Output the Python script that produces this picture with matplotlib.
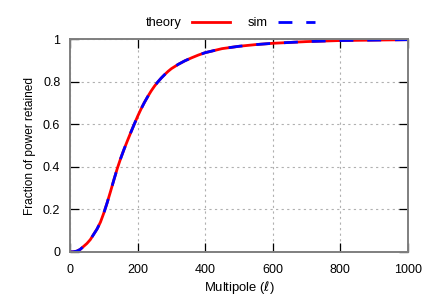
import matplotlib.pyplot as plt
from matplotlib.lines import Line2D

# values
ell = [0, 10, 20, 30, 40, 50, 60, 70, 80, 90, 100, 110, 120, 130, 140, 150,
       160, 170, 180, 190, 200, 210, 220, 230, 240, 250, 260, 270, 280, 290,
       300, 320, 340, 360, 380, 400, 450, 500, 550, 600, 700, 800, 900, 1000]
theory = [0.0, 0.001, 0.004, 0.012, 0.026, 0.04, 0.058, 0.083, 0.108, 0.14,
          0.183, 0.232, 0.285, 0.34, 0.393, 0.44, 0.483, 0.523, 0.562, 0.6,
          0.637, 0.671, 0.702, 0.73, 0.756, 0.779, 0.799, 0.817, 0.833,
          0.848, 0.861, 0.881, 0.898, 0.912, 0.925, 0.936, 0.955, 0.966,
          0.974, 0.98, 0.988, 0.993, 0.995, 0.997]
sim = list(theory)

plt.rcParams['font.family'] = ['Liberation Sans', 'DejaVu Sans']
plt.rcParams['mathtext.fontset'] = 'custom'
plt.rcParams['mathtext.it'] = 'DejaVu Sans:italic'
plt.rcParams['font.size'] = 9

fig = plt.figure(figsize=(4.36, 3.05), dpi=100)
ax = fig.add_axes([0.1606, 0.1738, 0.7752, 0.6982])

ax.plot(ell, theory, color='red', lw=2, solid_capstyle='butt')
ax.plot(ell, sim, color='blue', lw=2, dashes=(5, 5), dash_capstyle='butt')

ax.set_xlim(0, 1000)
ax.set_ylim(0, 1)
ax.set_xticks([0, 200, 400, 600, 800, 1000])
ax.set_yticks([0, 0.2, 0.4, 0.6, 0.8, 1])
ax.set_yticklabels(['0', '0.2', '0.4', '0.6', '0.8', '1'])
ax.grid(True, color='#b0b0b0', linestyle=(0, (2, 3)), lw=0.8)
ax.tick_params(direction='in', length=6.5, width=0.9, color='black',
               top=True, right=True, labelsize=9)
ax.tick_params(axis='x', pad=9)
ax.tick_params(axis='y', pad=7)
for s in ax.spines.values():
    s.set_color('#7f7f7f')
    s.set_linewidth(1.4)

ax.set_xlabel('Multipole ($\\ell$)', fontsize=9.4, labelpad=2)
ax.set_ylabel('Fraction of power retained', fontsize=8.6, labelpad=5)

handles = [Line2D([], [], color='red', lw=2),
           Line2D([], [], color='blue', lw=2, dashes=(5, 5))]
ax.legend(handles, ['theory', 'sim'], loc='lower center',
          bbox_to_anchor=(0.475, 1.0), ncol=2, frameon=False,
          markerfirst=False, handlelength=2.9, columnspacing=1.35,
          handletextpad=0.8, borderaxespad=0.35, fontsize=9.3)

fig.savefig('out.png', dpi=100)
